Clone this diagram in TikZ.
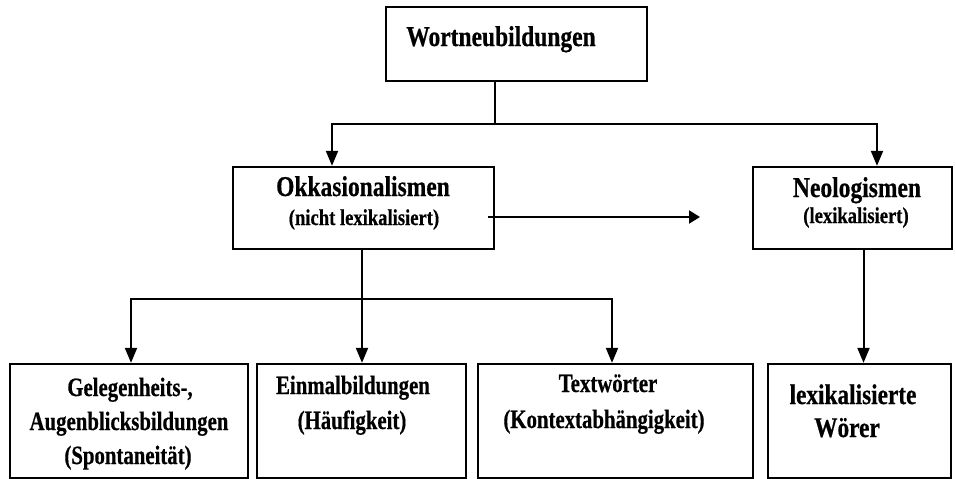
\documentclass[tikz,border=0pt]{standalone}
\usepackage{fontspec}
\setmainfont{Liberation Serif}[BoldFeatures={FakeBold=0.6}]
\usepackage{graphicx}
\usetikzlibrary{arrows.meta}
\tikzset{
  box/.style={draw=black, line width=2.3pt, fill=white, inner sep=0pt},
  conn/.style={draw=black, line width=2pt},
  arr/.style={conn, -{Triangle[length=15pt,width=12pt]}},
  harr/.style={conn, -{Triangle[length=11pt,width=13pt]}},
  lbl/.style={anchor=base, inner sep=0pt, font=\bfseries},
}
\newcommand{\bigT}[1]{\fontsize{23.5}{28}\selectfont\scalebox{1}[1.22]{#1}}
\newcommand{\midT}[1]{\fontsize{18.6}{22}\selectfont\scalebox{1}[1.22]{#1}}
\newcommand{\lowT}[1]{\fontsize{20.8}{25}\selectfont\scalebox{1}[1.27]{#1}}
\newcommand{\lexT}[1]{\fontsize{23.3}{28}\selectfont\scalebox{1}[1.22]{#1}}
\begin{document}
\begin{tikzpicture}[x=1pt, y=-1pt]
\useasboundingbox (0,0) rectangle (956,479);
\fill[white] (0,0) rectangle (956,479);
% boxes
\node[box, minimum width=261pt, minimum height=74pt] (w) at (516.5,44) {};
\node[box, minimum width=261pt, minimum height=82pt] (okk) at (363.5,208) {};
\node[box, minimum width=199pt, minimum height=82pt] (neo) at (852.5,208) {};
\node[box, minimum width=238pt, minimum height=114pt] (b1) at (129,421) {};
\node[box, minimum width=209pt, minimum height=114pt] (b2) at (361.5,421) {};
\node[box, minimum width=275pt, minimum height=114pt] (b3) at (615.5,421) {};
\node[box, minimum width=183pt, minimum height=114pt] (b4) at (859.5,421) {};
% texts
\node[lbl] (tw) at (501,46) {\bigT{Wortneubildungen}};
\node[lbl] (to1) at (363,196) {\bigT{Okkasionalismen}};
\node[lbl] (to2) at (364,225) {\midT{(nicht lexikalisiert)}};
\node[lbl] (tn1) at (857,197) {\bigT{Neologismen}};
\node[lbl] (tn2) at (856,223) {\midT{(lexikalisiert)}};
\node[lbl] (t11) at (130,396) {\lowT{Gelegenheits-,}};
\node[lbl] (t12) at (129,430) {\lowT{Augenblicksbildungen}};
\node[lbl] (t13) at (128,464) {\lowT{(Spontaneität)}};
\node[lbl] (t21) at (353,394) {\lowT{Einmalbildungen}};
\node[lbl] (t22) at (352,429) {\lowT{(Häufigkeit)}};
\node[lbl] (t31) at (608,392) {\lowT{Textwörter}};
\node[lbl] (t32) at (604,428) {\lowT{(Kontextabhängigkeit)}};
\node[lbl] (t41) at (853,404) {\lexT{lexikalisierte}};
\node[lbl] (t42) at (847,437) {\lexT{Wörer}};
% connectors
\coordinate (j1) at (495,124);
\coordinate (j2) at (362,299);
\coordinate (hend) at (700,217);
\draw[conn] (w.south -| j1) -- (j1);
\draw[arr] (j1) -| ([xshift=-31.5pt]okk.north);
\draw[arr] (j1) -| ([xshift=24.5pt]neo.north);
\draw[harr] ([shift={(-7,9)}]okk.east) -- (hend);
\draw[conn] (okk.south -| j2) -- (j2);
\draw[arr] (j2) -| ([xshift=2pt]b1.north);
\draw[arr] (j2) -- (b2.north -| j2);
\draw[arr] (j2) -| ([xshift=-3.5pt]b3.north);
\draw[arr] ([xshift=11pt]neo.south) -- ([xshift=11pt]neo.south |- b4.north);
\end{tikzpicture}
\end{document}
